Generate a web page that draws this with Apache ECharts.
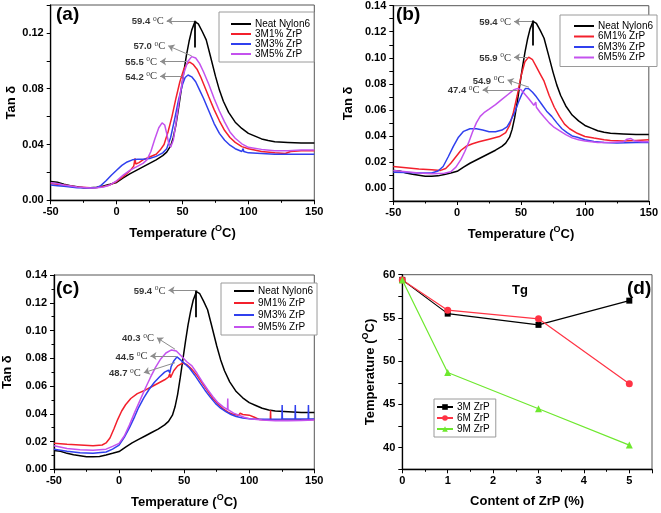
<!DOCTYPE html>
<html><head><meta charset="utf-8">
<script src="https://cdn.jsdelivr.net/npm/echarts@6/dist/echarts.min.js"></script>
<style>html,body{margin:0;padding:0;background:#fff}#c{width:661px;height:513px}</style>
</head><body><div id="c"></div><script>
// ---------- data ----------
const neatNylon6 = [[-50,0.0135],[-45,0.013],[-40,0.0115],[-35,0.0105],[-30,0.0098],[-25,0.009],[-20,0.009],[-15,0.0093],[-10,0.0103],[-5,0.0115],[0,0.0128],[5,0.016],[10,0.019],[15,0.0215],[20,0.024],[25,0.0265],[30,0.029],[35,0.032],[38,0.0345],[41,0.039],[43,0.045],[45,0.054],[47,0.066],[49,0.079],[51,0.092],[53,0.104],[55,0.114],[57,0.122],[59.4,0.128],[62,0.1265],[65,0.121],[68,0.115],[71,0.104],[75,0.089],[78,0.079],[81,0.071],[85,0.063],[90,0.056],[95,0.0515],[100,0.048],[105,0.046],[110,0.0440],[115,0.0428],[120,0.042],[130,0.0415],[140,0.041],[150,0.041]];

const m3p1 = [[-50,0.012],[-45,0.0115],[-40,0.011],[-30,0.0095],[-20,0.009],[-15,0.0092],[-10,0.0098],[-5,0.011],[0,0.0135],[5,0.017],[10,0.021],[13,0.0245],[14,0.030],[14.5,0.026],[17,0.027],[20,0.029],[25,0.031],[30,0.033],[33,0.036],[36,0.040],[39,0.049],[42,0.060],[45,0.073],[48,0.085],[51,0.094],[53.5,0.098],[55.5,0.099],[58,0.0975],[61,0.094],[64,0.088],[67,0.081],[70,0.074],[74,0.065],[78,0.057],[82,0.050],[86,0.045],[90,0.0415],[95,0.0385],[100,0.037],[110,0.035],[120,0.034],[128,0.0335],[132,0.035],[140,0.0355],[150,0.0355]];
const m3p3 = [[-50,0.011],[-45,0.0105],[-40,0.0100],[-30,0.009],[-20,0.0088],[-15,0.0092],[-12,0.0105],[-8,0.014],[-4,0.018],[0,0.0215],[4,0.025],[8,0.0275],[12,0.029],[16,0.0295],[20,0.0295],[25,0.030],[30,0.0315],[35,0.034],[38,0.037],[41,0.045],[44,0.058],[47,0.072],[50,0.083],[52,0.088],[54.2,0.0898],[57,0.0885],[60,0.085],[63,0.079],[66,0.073],[70,0.064],[74,0.055],[78,0.048],[82,0.043],[86,0.0395],[90,0.037],[95,0.035],[96,0.037],[96.5,0.035],[100,0.034],[110,0.0335],[120,0.033],[150,0.033]];
const m3p5 = [[-50,0.0125],[-45,0.012],[-40,0.011],[-30,0.0095],[-20,0.0088],[-15,0.009],[-10,0.0095],[-5,0.011],[0,0.014],[5,0.018],[10,0.0215],[15,0.024],[20,0.0265],[23,0.029],[26,0.035],[29,0.044],[32,0.052],[34.5,0.0555],[36.5,0.054],[38,0.048],[39.5,0.041],[41,0.038],[43,0.043],[45,0.055],[48,0.075],[51,0.091],[54,0.0995],[57,0.103],[60,0.102],[63,0.098],[66,0.092],[70,0.083],[74,0.073],[78,0.064],[82,0.056],[86,0.049],[90,0.0445],[95,0.0405],[100,0.038],[110,0.0365],[120,0.0355],[130,0.0355],[140,0.036],[150,0.036]];

const m6p1 = [[-50,0.0165],[-40,0.0155],[-30,0.0145],[-20,0.014],[-13,0.0135],[-9,0.015],[-5,0.019],[-1,0.024],[3,0.029],[7,0.032],[12,0.034],[17,0.0355],[25,0.0375],[33,0.0395],[38,0.0425],[41,0.048],[44,0.058],[47,0.071],[50,0.086],[53,0.097],[55.9,0.1005],[59,0.0985],[62,0.093],[65,0.0875],[68,0.082],[72,0.071],[76,0.062],[80,0.055],[84,0.049],[88,0.0455],[94,0.042],[100,0.0395],[107,0.0383],[115,0.037],[120,0.0365],[130,0.036],[140,0.0365],[150,0.037]];
const m6p3 = [[-50,0.012],[-40,0.0118],[-30,0.0115],[-20,0.0115],[-15,0.013],[-11,0.0165],[-7,0.024],[-3,0.032],[1,0.039],[5,0.0435],[10,0.0455],[15,0.0455],[20,0.0445],[25,0.0432],[30,0.0432],[35,0.0445],[39,0.047],[42,0.052],[45,0.058],[48,0.066],[51,0.073],[53.5,0.0765],[56,0.0762],[59,0.0735],[62,0.070],[66,0.0645],[70,0.059],[74,0.055],[78,0.050],[82,0.0455],[86,0.0425],[90,0.040],[94,0.039],[100,0.037],[107,0.0357],[115,0.035],[125,0.0345],[140,0.035],[150,0.035]];
const m6p5 = [[-50,0.0135],[-40,0.0125],[-30,0.0115],[-20,0.011],[-10,0.0113],[-5,0.0125],[-1,0.016],[3,0.022],[6,0.028],[9,0.035],[12,0.043],[15,0.050],[18,0.055],[21,0.0578],[25,0.0605],[30,0.064],[35,0.068],[40,0.072],[44,0.0752],[47.4,0.0765],[50,0.0755],[53,0.072],[56,0.0685],[60,0.0635],[61.5,0.066],[62,0.062],[65,0.058],[68,0.0545],[72,0.050],[76,0.0465],[80,0.0440],[85,0.041],[90,0.0385],[95,0.037],[100,0.036],[110,0.035],[120,0.035],[130,0.0355],[133,0.0375],[136,0.038],[139,0.036],[145,0.0355],[150,0.0355]];

const m9p1 = [[-50,0.0187],[-40,0.018],[-30,0.0175],[-20,0.017],[-13,0.0175],[-10,0.019],[-7,0.0225],[-4,0.029],[-1,0.036],[2,0.042],[5,0.0465],[9,0.051],[14,0.0545],[20,0.057],[25,0.0595],[30,0.062],[35,0.0645],[38,0.0665],[39,0.069],[39.5,0.066],[42,0.071],[45,0.0745],[48.7,0.0765],[52,0.0755],[56,0.072],[60,0.0675],[64,0.062],[68,0.0565],[72,0.051],[76,0.047],[80,0.0435],[84,0.041],[88,0.0395],[92,0.039],[93,0.0405],[95,0.0395],[100,0.039],[104,0.0375],[108,0.0358],[116.2,0.0355],[116.4,0.0425],[116.6,0.0355],[125,0.0355],[135,0.0355],[150,0.0358]];
const m9p3 = [[-50,0.0145],[-40,0.013],[-30,0.012],[-20,0.0115],[-10,0.0125],[-5,0.0145],[0,0.0175],[4,0.023],[8,0.030],[12,0.038],[15,0.0445],[19,0.0515],[23,0.0575],[27,0.0625],[31,0.0665],[35,0.070],[38,0.0715],[39,0.0695],[40,0.074],[42,0.078],[44.5,0.081],[47,0.079],[50,0.0765],[54,0.073],[58,0.068],[62,0.0625],[66,0.057],[70,0.052],[74,0.0475],[78,0.044],[82,0.0415],[86,0.0395],[90,0.038],[95,0.037],[100,0.0365],[105,0.036],[110,0.036],[125.1,0.0362],[125.3,0.0463],[125.5,0.0362],[135.2,0.0362],[135.4,0.0463],[135.6,0.0362],[145.3,0.0362],[145.5,0.0463],[145.7,0.0362],[150,0.0362]];
const m9p5 = [[-50,0.017],[-40,0.015],[-30,0.014],[-20,0.0138],[-10,0.0145],[-5,0.0165],[0,0.0187],[4,0.024],[8,0.032],[12,0.041],[16,0.0495],[20,0.058],[24,0.066],[28,0.0735],[32,0.0795],[36,0.0838],[40.3,0.086],[44,0.0852],[48,0.0815],[52,0.0775],[56,0.0745],[60,0.069],[64,0.063],[68,0.0575],[72,0.0525],[76,0.048],[80,0.045],[83.3,0.043],[83.5,0.051],[83.7,0.043],[88,0.0405],[92,0.039],[96,0.0375],[100,0.0365],[110,0.0355],[120,0.035],[130,0.035],[140,0.0352],[150,0.0355]];

const zrpContent = [0, 1, 3, 5];
const tg3M = [59.4, 55.5, 54.2, 57.0];
const tg6M = [59.4, 55.9, 54.9, 47.4];
const tg9M = [59.4, 48.7, 44.5, 40.3];

// peak annotations: [label, arrow start (x,y), arrow end / text anchor (x,y)]
const annA = [['59.4',[60.8,0.1287],[38,0.1287]],['57.0',[57,0.1035],[39.2,0.1107]],['55.5',[53.2,0.0995],[33,0.0995]],['54.2',[49.4,0.089],[33,0.089]]];
const annB = [['59.4',[58.8,0.1277],[44.5,0.1277]],['55.9',[54.9,0.1004],[44.5,0.1004]],['54.9',[56.2,0.0774],[39.4,0.083]],['47.4',[47.1,0.0754],[19.9,0.0754]]];
const annC = [['59.4',[60.2,0.129],[38,0.129]],['40.3',[43,0.0865],[29.1,0.0948]],['44.5',[44.3,0.0816],[24.1,0.0816]],['48.7',[43,0.0768],[19,0.0696]]];
const peakTick = [[59.0,0.1287],[59.0,0.1095]];

// ---------- styling ----------
const FONT = 'Arial, "Liberation Sans", sans-serif';
const COL = {black:'#000000', red:'#f3202c', blue:'#3040ee', purple:'#c452ee', dred:'#ff3344', green:'#6ee82e'};
const supRich = {
  t:{fontFamily:FONT,fontWeight:'bold',fontSize:13,color:'#000',lineHeight:16,verticalAlign:'bottom'},
  s:{fontFamily:FONT,fontWeight:'bold',fontSize:9,color:'#000',lineHeight:16,verticalAlign:'top'}
};
const tempName = '{t|Temperature (}{s|O}{t|C)}';

const grids = [
  {left:50.7, top:5, width:263.6, height:195.3},
  {left:393.3, top:5.7, width:257.4, height:195.3},
  {left:50.7, top:275, width:263.6, height:194.3},
  {left:402.3, top:274.7, width:249.7, height:194.6}
].map(g => Object.assign({show:true, borderColor:'#555', borderWidth:1, containLabel:false}, g));

function axLine(){ return {show:true, onZero:false, lineStyle:{color:'#000', width:1.3}}; }
function lbl(extra){ return Object.assign({color:'#000', fontWeight:'bold', fontSize:11, fontFamily:FONT}, extra||{}); }

function tempX(gi){
  return {gridIndex:gi, type:'value', min:-50, max:150, interval:50,
    name:tempName, nameLocation:'middle', nameGap:24, nameTextStyle:{rich:supRich},
    axisLine:axLine(), axisTick:{show:true, length:4, lineStyle:{color:'#000'}},
    minorTick:{show:true, splitNumber:2, length:2.5, lineStyle:{color:'#000'}},
    splitLine:{show:false}, axisLabel:lbl({margin:6})};
}
function tanY(gi, min, max, interval, fmt, minorSplit, gap){
  return {gridIndex:gi, type:'value', min:min, max:max, interval:interval,
    name:'Tan δ', nameLocation:'middle', nameGap:gap,
    nameTextStyle:{fontFamily:FONT, fontWeight:'bold', fontSize:13, color:'#000'},
    axisLine:axLine(), axisTick:{show:true, length:4, lineStyle:{color:'#000'}},
    minorTick:{show:!!minorSplit, splitNumber:minorSplit||2, length:2.5, lineStyle:{color:'#000'}},
    splitLine:{show:false}, axisLabel:lbl({margin:7, formatter:fmt})};
}
const fmtA = v => (Math.abs(Math.round(v*100)) % 4 === 0 && v < 0.135) ? v.toFixed(2) : '';
const fmtEven = v => (Math.abs(Math.round(v*100)) % 2 === 0 && v > -0.001) ? v.toFixed(2) : '';

function curve(name, data, color, gi){
  return {type:'line', name:name, data:data, xAxisIndex:gi, yAxisIndex:gi, symbol:'none', showSymbol:false,
    lineStyle:{color:color, width:1.5}, itemStyle:{color:color}, silent:true, z:3};
}
function annSeries(list, gi){
  const out = [];
  out.push({type:'lines', coordinateSystem:'cartesian2d', xAxisIndex:gi, yAxisIndex:gi, silent:true, z:5,
    symbol:['none','arrow'], symbolSize:6,
    lineStyle:{color:'#8d8d8d', width:1, opacity:1},
    data:list.map(a => ({coords:[a[1], a[2]]}))});
  out.push({type:'lines', coordinateSystem:'cartesian2d', xAxisIndex:gi, yAxisIndex:gi, silent:true, z:6,
    symbol:['none','none'], lineStyle:{color:'#000', width:1.8, opacity:1},
    data:[{coords:peakTick}]});
  out.push({type:'scatter', xAxisIndex:gi, yAxisIndex:gi, silent:true, symbolSize:0, z:6,
    data:list.map(a => ({value:a[2], name:a[0]})),
    label:{show:true, position:'left', distance:3,
      formatter: p => '{n|' + p.name + ' }{o|o}{c|C}',
      rich:{
        n:{fontFamily:FONT, fontWeight:'bold', fontSize:9.5, color:'#000', lineHeight:12, verticalAlign:'bottom'},
        o:{fontFamily:'"Liberation Serif", serif', fontSize:7.5, color:'#000', lineHeight:12, verticalAlign:'top'},
        c:{fontFamily:'"Liberation Serif", serif', fontSize:10.5, color:'#000', lineHeight:12, verticalAlign:'bottom'}
      }}});
  return out;
}
function legendBox(names, pos, gap){
  return Object.assign({orient:'vertical', data:names.map(n => ({name:n, icon:'rect'})), itemWidth:20, itemHeight:2, itemGap:gap,
    selectedMode:false, backgroundColor:'#fff', borderColor:'#9a9a9a', borderWidth:1,
    textStyle:{fontFamily:FONT, fontSize:10, color:'#000', lineHeight:10, height:10, padding:[0,0,0,-1]}}, pos);
}

const series = [].concat(
  [curve('Neat Nylon6', neatNylon6, COL.black, 0), curve('3M1% ZrP', m3p1, COL.red, 0), curve('3M3% ZrP', m3p3, COL.blue, 0), curve('3M5% ZrP', m3p5, COL.purple, 0)],
  annSeries(annA, 0),
  [curve('Neat Nylon6', neatNylon6, COL.black, 1), curve('6M1% ZrP', m6p1, COL.red, 1), curve('6M3% ZrP', m6p3, COL.blue, 1), curve('6M5% ZrP', m6p5, COL.purple, 1)],
  annSeries(annB, 1),
  [curve('Neat Nylon6', neatNylon6, COL.black, 2), curve('9M1% ZrP', m9p1, COL.red, 2), curve('9M3% ZrP', m9p3, COL.blue, 2), curve('9M5% ZrP', m9p5, COL.purple, 2)],
  annSeries(annC, 2),
  [
    {type:'line', name:'3M ZrP', xAxisIndex:3, yAxisIndex:3, data:zrpContent.map((c,i)=>[c,tg3M[i]]), symbol:'rect', symbolSize:6, lineStyle:{color:COL.black,width:1.2}, itemStyle:{color:COL.black}, silent:true},
    {type:'line', name:'6M ZrP', xAxisIndex:3, yAxisIndex:3, data:zrpContent.map((c,i)=>[c,tg6M[i]]), symbol:'circle', symbolSize:7, lineStyle:{color:COL.dred,width:1.2}, itemStyle:{color:COL.dred}, silent:true},
    {type:'line', name:'9M ZrP', xAxisIndex:3, yAxisIndex:3, data:zrpContent.map((c,i)=>[c,tg9M[i]]), symbol:'triangle', symbolSize:7, lineStyle:{color:COL.green,width:1.2}, itemStyle:{color:COL.green}, silent:true}
  ]
);

const titleStyle = {fontFamily:FONT, fontWeight:'bold', fontSize:19, color:'#000'};
const legendD = {orient:'vertical', data:['3M ZrP','6M ZrP','9M ZrP'], itemWidth:16, itemHeight:7, itemGap:1,
  left:434, top:399, padding:[3,6,3,2],
  selectedMode:false, backgroundColor:'#fff', borderColor:'#9a9a9a', borderWidth:1,
  textStyle:{fontFamily:FONT, fontSize:10, color:'#000', lineHeight:10, height:10, padding:[0,0,0,-1]}};
const option = {
  animation:false,
  backgroundColor:'#fff',
  grid:grids,
  title:[
    {text:'(a)', left:56, top:5, textStyle:titleStyle, padding:0},
    {text:'(b)', left:396, top:5, textStyle:titleStyle, padding:0},
    {text:'(c)', left:56, top:279, textStyle:titleStyle, padding:0},
    {text:'(d)', left:627, top:279, textStyle:titleStyle, padding:0},
    {text:'Tg', left:512, top:284, textStyle:{fontFamily:FONT, fontWeight:'bold', fontSize:13, color:'#000'}, padding:0}
  ],
  legend:[
    legendBox(['Neat Nylon6','3M1% ZrP','3M3% ZrP','3M5% ZrP'], {left:219, top:12, padding:[7,4,3,12]}, 0),
    legendBox(['Neat Nylon6','6M1% ZrP','6M3% ZrP','6M5% ZrP'], {left:560, top:15, padding:[6,4,4,14]}, 0.5),
    legendBox(['Neat Nylon6','9M1% ZrP','9M3% ZrP','9M5% ZrP'], {left:221, top:283, padding:[3,4,3,13]}, 2),
    legendD
  ],
  xAxis:[tempX(0), tempX(1), tempX(2),
    {gridIndex:3, type:'value', min:0, max:5.5, interval:1,
      name:'Content of ZrP (%)', nameLocation:'middle', nameGap:26,
      nameTextStyle:{fontFamily:FONT, fontWeight:'bold', fontSize:13, color:'#000'},
      axisLine:axLine(), axisTick:{show:true, length:4, lineStyle:{color:'#000'}},
      minorTick:{show:true, splitNumber:2, length:2.5, lineStyle:{color:'#000'}},
      splitLine:{show:false}, axisLabel:lbl({margin:6, showMaxLabel:false})}],
  yAxis:[
    tanY(0, 0, 0.14, 0.02, fmtA, 0, 33),
    tanY(1, -0.01, 0.14, 0.01, fmtEven, 0, 38),
    tanY(2, 0, 0.14, 0.02, fmtEven, 2, 40),
    {gridIndex:3, type:'value', min:37.5, max:60, interval:2.5,
      name:tempName, nameLocation:'middle', nameGap:25, nameTextStyle:{rich:supRich},
      axisLine:axLine(), axisTick:{show:true, length:4, lineStyle:{color:'#000'}},
      splitLine:{show:false},
      axisLabel:lbl({margin:7, formatter: v => (Math.round(v*10) % 50 === 0) ? String(Math.round(v)) : ''})}
  ],
  series:series
};
const chart = echarts.init(document.getElementById('c'), null, {renderer:'canvas'});
chart.setOption(option);
</script></body></html>
